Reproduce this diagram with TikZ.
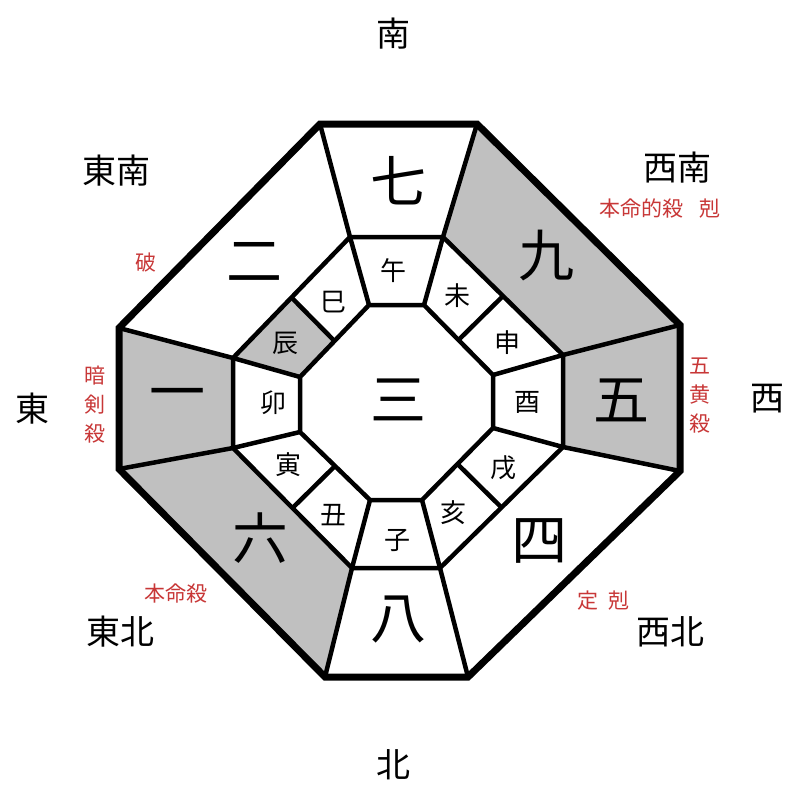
\documentclass[tikz,border=0pt]{standalone}
\usepackage{fontspec}
\usetikzlibrary{calc}
\newfontfamily\cjk{Noto Sans CJK JP}
\definecolor{cellgray}{RGB}{192,192,192}
\definecolor{labred}{RGB}{200,55,55}
\begin{document}
\begin{tikzpicture}[x=1pt,y=-1pt,
  outerline/.style={line width=7pt,line join=miter},
  innerline/.style={line width=4.5pt,line join=miter},
  shade/.style={fill=cellgray},
  bignum/.style={font=\cjk\fontsize{56}{56}\selectfont,inner sep=0pt},
  branch/.style={font=\cjk\fontsize{26}{26}\selectfont,inner sep=0pt},
  dirlab/.style={font=\cjk\fontsize{34}{34}\selectfont,inner sep=0pt},
  redlab/.style={text=labred,font=\cjk\fontsize{21}{29}\selectfont,align=center,inner sep=0pt}]
\useasboundingbox (0,0) rectangle (800,800);
\fill[white] (0,0) rectangle (800,800);
% outer octagon
\coordinate (O1) at (320,124); \coordinate (O2) at (477,124);
\coordinate (O3) at (680,325); \coordinate (O4) at (680,471);
\coordinate (O5) at (468,677); \coordinate (O6) at (325,677);
\coordinate (O7) at (119,469); \coordinate (O8) at (119,328);
% middle octagon
\coordinate (M1) at (350,237); \coordinate (M2) at (443,237);
\coordinate (M3) at (563,355); \coordinate (M4) at (563,447);
\coordinate (M5) at (440,568); \coordinate (M6) at (352,568);
\coordinate (M7) at (233,448); \coordinate (M8) at (233,358);
% inner octagon
\coordinate (I1) at (369,305); \coordinate (I2) at (424,305);
\coordinate (I3) at (493,375); \coordinate (I4) at (493,428);
\coordinate (I5) at (422,500); \coordinate (I6) at (370,500);
\coordinate (I7) at (300,432); \coordinate (I8) at (300,377);
% diagonal split points
\coordinate (A1) at ($(M8)!0.5!(M1)$); \coordinate (B1) at ($(I8)!0.5!(I1)$);
\coordinate (A2) at ($(M2)!0.5!(M3)$); \coordinate (B2) at ($(I2)!0.5!(I3)$);
\coordinate (A3) at ($(M4)!0.5!(M5)$); \coordinate (B3) at ($(I4)!0.5!(I5)$);
\coordinate (A4) at ($(M6)!0.5!(M7)$); \coordinate (B4) at ($(I6)!0.5!(I7)$);
% shaded cells
\fill[shade] (O2) -- (O3) -- (M3) -- (M2) -- cycle;
\fill[shade] (O3) -- (O4) -- (M4) -- (M3) -- cycle;
\fill[shade] (O7) -- (O8) -- (M8) -- (M7) -- cycle;
\fill[shade] (O6) -- (O7) -- (M7) -- (M6) -- cycle;
\fill[shade] (M8) -- (A1) -- (B1) -- (I8) -- cycle;
% inner lines
\draw[innerline] (M1) -- (M2) -- (M3) -- (M4) -- (M5) -- (M6) -- (M7) -- (M8) -- cycle;
\draw[innerline] (I1) -- (I2) -- (I3) -- (I4) -- (I5) -- (I6) -- (I7) -- (I8) -- cycle;
\foreach \i in {1,...,8} {
  \draw[innerline] (M\i) -- (O\i);
  \draw[innerline] (M\i) -- (I\i);
}
\foreach \i in {1,...,4} {
  \draw[innerline] (A\i) -- (B\i);
}
% outer line
\draw[outerline] (O1) -- (O2) -- (O3) -- (O4) -- (O5) -- (O6) -- (O7) -- (O8) -- cycle;
% big numbers
\node[bignum] (n7) at (398,181) {七};
\node[bignum] (n9) at (546,256) {九};
\node[bignum] (n5) at (621,400) {五};
\node[bignum] (n4) at (539,541) {四};
\node[bignum] (n8) at (398,620) {八};
\node[bignum] (n6) at (260,538) {六};
\node[bignum] (n1) at (177,400) {一};
\node[bignum] (n2) at (254,262) {二};
\node[bignum] (n3) at (398,400) {三};
% branches
\node[branch] (bwu) at (393,271) {午};
\node[branch] (bwei) at (457,296) {未};
\node[branch] (bshen) at (507,343) {申};
\node[branch] (byou) at (527,402) {酉};
\node[branch] (bxu) at (503,468) {戌};
\node[branch] (bhai) at (453,513) {亥};
\node[branch] (bzi) at (397,540) {子};
\node[branch] (bchou) at (333,515) {丑};
\node[branch] (byin) at (288,465) {寅};
\node[branch] (bmao) at (273,403) {卯};
\node[branch] (bchen) at (285,343) {辰};
\node[branch] (bsi) at (333,302) {巳};
% directions
\node[dirlab] (dS) at (393,34) {南};
\node[dirlab] (dN) at (393,765) {北};
\node[dirlab] (dE) at (33,409) {東};
\node[dirlab] (dW) at (767,399) {西};
\node[dirlab] (dSE) at (116,171) {東南};
\node[dirlab] (dSW) at (677,168) {西南};
\node[dirlab] (dNE) at (120,632) {東北};
\node[dirlab] (dNW) at (670,632) {西北};
% red labels
\node[redlab] (r1) at (660,209) {本命的殺\hspace{17pt}剋};
\node[redlab] (r2) at (146,263) {破};
\node[redlab] (r3) at (95,405) {暗\\剣\\殺};
\node[redlab] (r4) at (700,396) {五\\黄\\殺};
\node[redlab] (r5) at (176,594) {本命殺};
\node[redlab] (r6) at (603,601) {定\hspace{10pt}剋};
\end{tikzpicture}
\end{document}
